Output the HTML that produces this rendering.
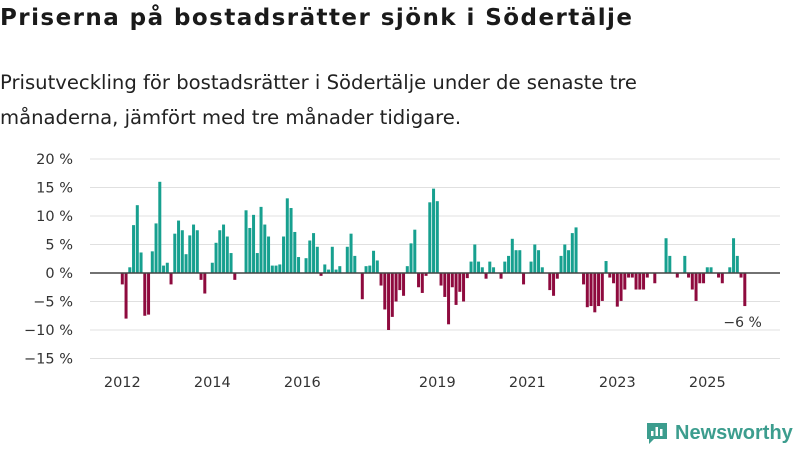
<!DOCTYPE html>
<html><head><meta charset="utf-8">
<style>
html,body{margin:0;padding:0;background:#fff;width:800px;height:450px;overflow:hidden;font-family:"Liberation Sans",sans-serif;}
#title{position:absolute;left:0;top:5px;font-family:"DejaVu Sans",sans-serif;font-size:23px;font-weight:bold;color:#1a1a1a;margin:0;letter-spacing:1.45px;white-space:nowrap;}
#subtitle{position:absolute;left:0;top:65px;font-family:"DejaVu Sans",sans-serif;font-size:19.6px;line-height:35px;color:#222;margin:0;width:795px;white-space:nowrap;}
svg{position:absolute;left:0;top:0;}
</style></head><body>
<h1 id="title">Priserna på bostadsrätter sjönk i Södertälje</h1>
<p id="subtitle">Prisutveckling för bostadsrätter i Södertälje under de senaste tre<br>månaderna, jämfört med tre månader tidigare.</p>
<svg id="chart" width="800" height="450"></svg>
<script>
const values = [
-2,-8,1,8.4,11.9,3.6,-7.5,-7.3,3.8,8.7,16,1.3,
1.8,-2,6.9,9.2,7.5,3.3,6.6,8.5,7.5,-1.2,-3.6,0,
1.8,5.3,7.5,8.5,6.4,3.5,-1.2,0,0,11,7.9,10.2,
3.5,11.6,8.5,6.4,1.3,1.3,1.5,6.4,13.1,11.4,7.2,2.8,
0,2.6,5.7,7.0,4.6,-0.5,1.5,0.6,4.6,0.6,1.2,0,
4.6,6.9,3.0,0,-4.6,1.2,1.3,3.9,2.2,-2.2,-6.4,-10,
-7.7,-5,-3,-4,1.2,5.2,7.6,-2.5,-3.5,-0.5,12.4,14.8,
12.6,-2.2,-4.2,-9,-2.5,-5.6,-3.3,-5,-0.9,2,5,2,
1,-1,2,1,0,-1,2,3,6,4,4,-2,
0,2,5,4,1,0,-3,-4,-1,3,5,4,
7,8,0,-2,-6,-5.8,-6.9,-5.8,-4.9,2.1,-0.8,-1.8,
-5.9,-4.9,-2.9,-0.8,-0.8,-2.9,-2.9,-2.9,-0.8,0,-1.8,0,
0,6.1,3,0,-0.8,0,3,-0.8,-2.9,-4.9,-1.8,-1.8,
1,1,0,-0.8,-1.8,0,1,6.1,3,-0.8,-5.8
];
const yTicks = [20,15,10,5,0,-5,-10,-15];
const xTickYears = [2012,2014,2016,2019,2021,2023,2025];
const startYear = 2012;
const lastLabel = "−6 %";

const NS="http://www.w3.org/2000/svg";
const svg=document.getElementById('chart');
const y0=273, pxPer=5.7, x0=122.3, step=3.75;
function y(v){return y0 - v*pxPer;}
function x(i){return x0 + i*step;}
function mk(tag,attrs){const e=document.createElementNS(NS,tag);for(const k in attrs)e.setAttribute(k,attrs[k]);svg.appendChild(e);return e;}

yTicks.forEach(t=>{
  if(t!==0){const g=mk('line',{x1:90,x2:780,y1:y(t),y2:y(t),stroke:'#e0e0e0','stroke-width':1});
  
  }
  const l=mk('text',{x:73,y:y(t)+5,'text-anchor':'end','font-size':14.5,fill:'#333','font-family':'DejaVu Sans, sans-serif'});
  l.textContent=(t<0?'−'+(-t):t)+' %';
  
  
});
values.forEach((v,i)=>{
  if(v===0)return;
  const top=v>0?y(v):y0, h=Math.abs(v)*pxPer;
  const r=mk('rect',{x:x(i)-1.5,y:top,width:3,height:h,fill:v>0?'#17a08f':'#8e0a3e'});
  
  
});
const zl=mk('line',{x1:90,x2:780,y1:y0,y2:y0,stroke:'#444','stroke-width':1.5});


xTickYears.forEach(yr=>{
  const t=mk('text',{x:x((yr-startYear)*12),y:387,'text-anchor':'middle','font-size':14.5,fill:'#333','font-family':'DejaVu Sans, sans-serif'});
  t.textContent=yr;
  
  
});
const li=values.length-1;
const vl=mk('text',{x:x(li)+17,y:y(values[li])+21,'text-anchor':'end','font-size':14,fill:'#333','font-family':'DejaVu Sans, sans-serif'});
vl.textContent=lastLabel;


</script>
<div style="position:absolute;left:644px;top:420px;display:flex;align-items:center;">
<svg width="26" height="26" style="position:static" viewBox="0 0 26 26"><path d="M3 3h20v16H10l-5 5v-5H3z" fill="#3c9d8e"/><rect x="7" y="11" width="2.5" height="5" fill="#fff"/><rect x="11.5" y="7" width="2.5" height="9" fill="#fff"/><rect x="16" y="9" width="2.5" height="7" fill="#fff"/></svg>
<span style="font-size:20px;font-weight:bold;color:#3c9d8e;margin-left:5px;">Newsworthy</span>
</div>
</body></html>
